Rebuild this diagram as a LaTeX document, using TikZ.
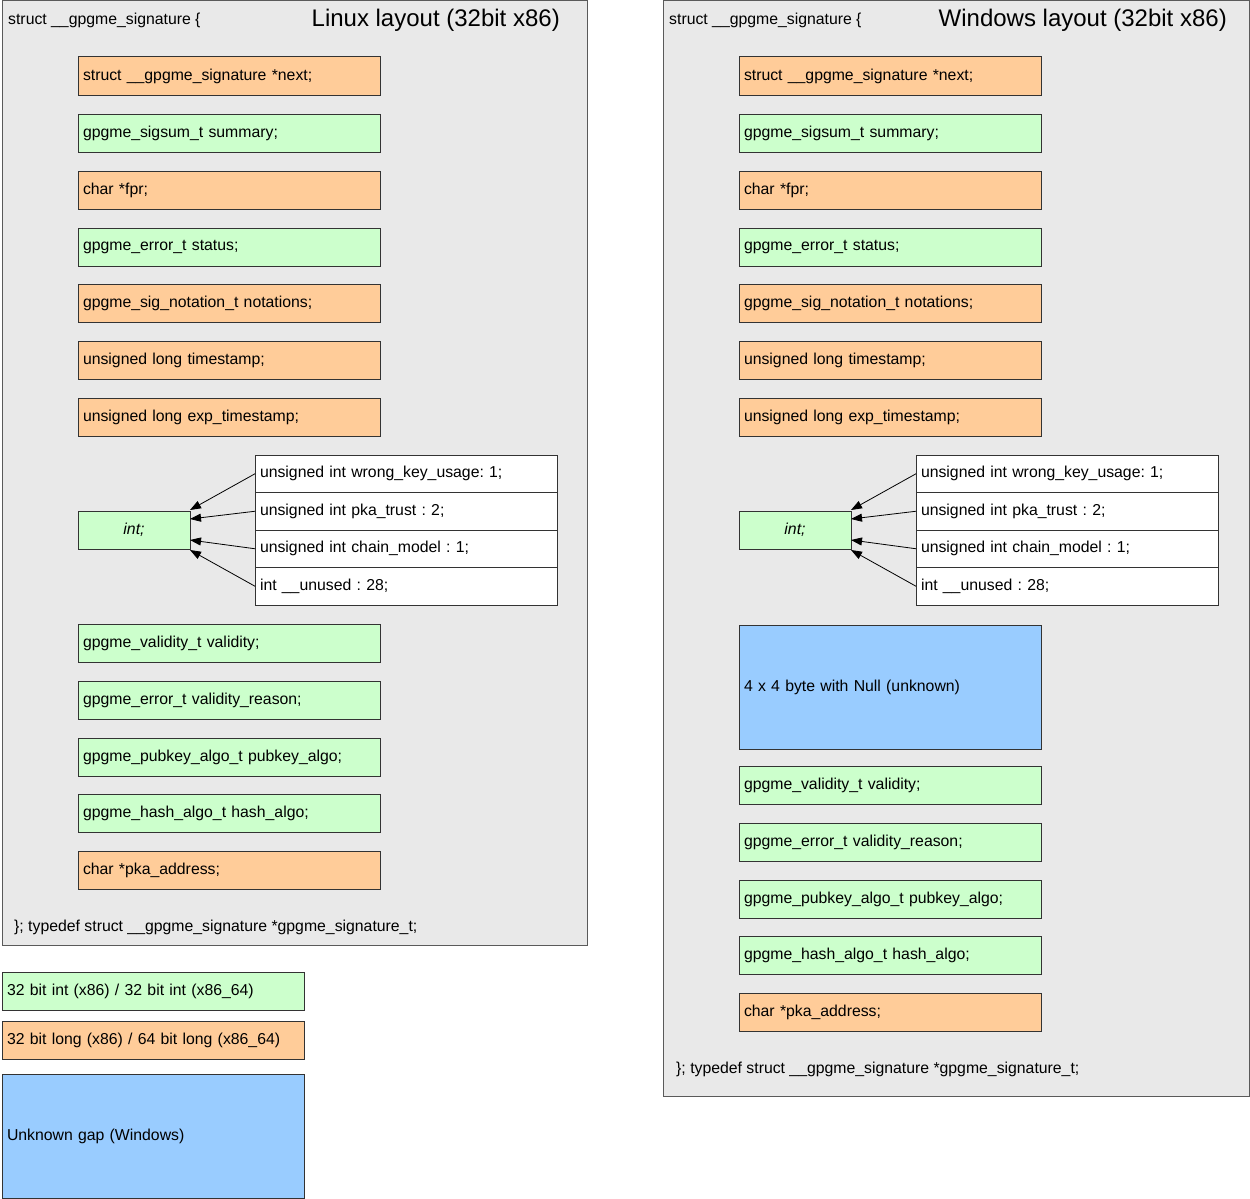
\documentclass[tikz,border=0pt]{standalone}
\usepackage{fontspec}
\setmainfont{Liberation Sans}
\frenchspacing
\usetikzlibrary{arrows.meta}
\definecolor{longfill}{HTML}{FFCC99}
\definecolor{intfill}{HTML}{CCFFCC}
\definecolor{gapfill}{HTML}{99CCFF}
\definecolor{panelfill}{HTML}{E9E9E9}
\definecolor{panelline}{HTML}{5A5A5A}
\definecolor{boxline}{HTML}{333333}
\begin{document}
\begin{tikzpicture}[x=1pt,y=-1pt,font=\fontsize{15.8}{19}\selectfont,
  panel/.style={draw=panelline,fill=panelfill,line width=1pt},
  field/.style={draw=boxline,line width=1pt,anchor=north west,inner xsep=5pt,inner ysep=0pt,
    outer sep=0pt,text width=292pt,minimum height=38pt,align=left},
  longf/.style={field,fill=longfill},
  intf/.style={field,fill=intfill},
  gapf/.style={field,fill=gapfill,minimum height=124pt},
  bitf/.style={field,fill=white,minimum height=37.5pt},
  packed/.style={draw=boxline,line width=1pt,fill=intfill,anchor=north west,minimum width=112pt,
    minimum height=38pt,inner sep=0pt,outer sep=0pt,font=\fontsize{15.8}{19}\selectfont\itshape},
  plain/.style={anchor=west,inner sep=0pt},
  heading/.style={anchor=east,inner sep=0pt,font=\fontsize{24}{28}\selectfont},
  into/.style={-{Triangle[length=11pt,width=8pt]},line width=0.8pt}]
\useasboundingbox (0,0) rectangle (1250,1199);

% ---------------- Linux layout ----------------
\path[panel] (2,1) rectangle (587,945);
\node[plain] (lhead) at (8,20) {struct \_\_gpgme\_signature \{};
\node[heading] (ltitle) at (560,20) {Linux layout (32bit x86)};

\node[longf] (lnext)   at (78,57)  {struct \_\_gpgme\_signature *next;};
\node[intf]  (lsum)    at (78,114) {gpgme\_sigsum\_t summary;};
\node[longf] (lfpr)    at (78,171) {char *fpr;};
\node[intf]  (lstat)   at (78,228) {gpgme\_error\_t status;};
\node[longf] (lnot)    at (78,284) {gpgme\_sig\_notation\_t notations;};
\node[longf] (lts)     at (78,341) {unsigned long timestamp;};
\node[longf] (lexp)    at (78,398) {unsigned long exp\_timestamp;};

\node[packed] (lint) at (78,511) {int;};
\node[bitf] (lb1) at (255,455)   {unsigned int wrong\_key\_usage: 1;};
\node[bitf] (lb2) at (255,492.5) {unsigned int pka\_trust : 2;};
\node[bitf] (lb3) at (255,530)   {unsigned int chain\_model : 1;};
\node[bitf] (lb4) at (255,567.5) {int \_\_unused : 28;};
\draw[into] (lb1.west) -- ([yshift=1pt]lint.north east);
\draw[into] (lb2.west) -- ([yshift=-8pt]lint.north east);
\draw[into] (lb3.west) -- ([yshift=9pt]lint.south east);
\draw[into] (lb4.west) -- ([yshift=-1pt]lint.south east);

\node[intf]  (lval)  at (78,624) {gpgme\_validity\_t validity;};
\node[intf]  (lvr)   at (78,681) {gpgme\_error\_t validity\_reason;};
\node[intf]  (lpk)   at (78,738) {gpgme\_pubkey\_algo\_t pubkey\_algo;};
\node[intf]  (lhash) at (78,794) {gpgme\_hash\_algo\_t hash\_algo;};
\node[longf] (lpka)  at (78,851) {char *pka\_address;};
\node[plain] (ltail) at (14,927) {\}; typedef struct \_\_gpgme\_signature *gpgme\_signature\_t;};

% ---------------- Windows layout ----------------
\path[panel] (663,1) rectangle (1249,1096);
\node[plain] (whead) at (669,20) {struct \_\_gpgme\_signature \{};
\node[heading] (wtitle) at (1227,20) {Windows layout (32bit x86)};

\node[longf] (wnext)   at (739,57)  {struct \_\_gpgme\_signature *next;};
\node[intf]  (wsum)    at (739,114) {gpgme\_sigsum\_t summary;};
\node[longf] (wfpr)    at (739,171) {char *fpr;};
\node[intf]  (wstat)   at (739,228) {gpgme\_error\_t status;};
\node[longf] (wnot)    at (739,284) {gpgme\_sig\_notation\_t notations;};
\node[longf] (wts)     at (739,341) {unsigned long timestamp;};
\node[longf] (wexp)    at (739,398) {unsigned long exp\_timestamp;};

\node[packed] (wint) at (739,511) {int;};
\node[bitf] (wb1) at (916,455)   {unsigned int wrong\_key\_usage: 1;};
\node[bitf] (wb2) at (916,492.5) {unsigned int pka\_trust : 2;};
\node[bitf] (wb3) at (916,530)   {unsigned int chain\_model : 1;};
\node[bitf] (wb4) at (916,567.5) {int \_\_unused : 28;};
\draw[into] (wb1.west) -- ([yshift=1pt]wint.north east);
\draw[into] (wb2.west) -- ([yshift=-8pt]wint.north east);
\draw[into] (wb3.west) -- ([yshift=9pt]wint.south east);
\draw[into] (wb4.west) -- ([yshift=-1pt]wint.south east);

\node[gapf]  (wgap)  at (739,625) {4 x 4 byte with Null (unknown)};
\node[intf]  (wval)  at (739,766) {gpgme\_validity\_t validity;};
\node[intf]  (wvr)   at (739,823) {gpgme\_error\_t validity\_reason;};
\node[intf]  (wpk)   at (739,880) {gpgme\_pubkey\_algo\_t pubkey\_algo;};
\node[intf]  (whash) at (739,936) {gpgme\_hash\_algo\_t hash\_algo;};
\node[longf] (wpka)  at (739,993) {char *pka\_address;};
\node[plain] (wtail) at (676,1069) {\}; typedef struct \_\_gpgme\_signature *gpgme\_signature\_t;};

% ---------------- Legend ----------------
\node[intf]  (kint)  at (2,972)  {32 bit int (x86) / 32 bit int (x86\_64)};
\node[longf] (klong) at (2,1021) {32 bit long (x86) / 64 bit long (x86\_64)};
\node[gapf]  (kgap)  at (2,1074) {Unknown gap (Windows)};
\end{tikzpicture}
\end{document}
